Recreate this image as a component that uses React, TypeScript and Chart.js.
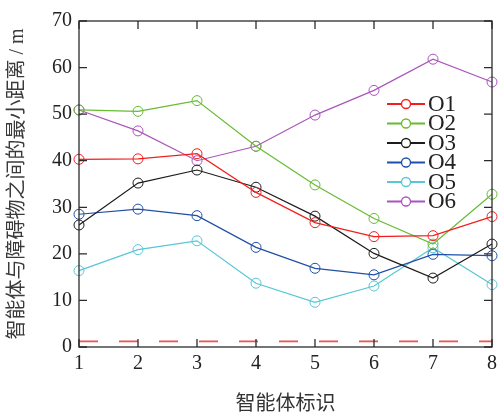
import React, { useEffect, useRef } from "react";
import { Chart, registerables } from "chart.js";

Chart.register(...registerables);

const categories = ["1", "2", "3", "4", "5", "6", "7", "8"];
const yMin = 0;
const yMax = 70;
const yStep = 10;
const seriesNames = ["O1", "O2", "O3", "O4", "O5", "O6"];
const o1 = [40.3, 40.4, 41.5, 33.2, 26.7, 23.7, 23.9, 28.0];
const o2 = [50.9, 50.6, 52.9, 43.1, 34.8, 27.6, 22.1, 32.8];
const o3 = [26.2, 35.2, 38.0, 34.3, 28.1, 20.1, 14.8, 22.1];
const o4 = [28.5, 29.6, 28.2, 21.4, 16.9, 15.5, 19.9, 19.6];
const o5 = [16.4, 20.9, 22.8, 13.7, 9.6, 13.1, 21.3, 13.4];
const o6 = [50.9, 46.4, 40.0, 43.1, 49.8, 55.1, 61.8, 56.9];
const safetyLine = [1.2, 1.2, 1.2, 1.2, 1.2, 1.2, 1.2, 1.2];
const seriesValues = [o1, o2, o3, o4, o5, o6];
const seriesColors = ["#f21d1d", "#66bb33", "#1c1c1c", "#1f4fa8", "#57c6d6", "#aa55bb"];
const xTitle = "智能体标识";
const yTitle = "智能体与障碍物之间的最小距离 / m";

const SERIF = "'Liberation Serif', 'Times New Roman', serif";
const TITLE_FONT = "'Liberation Serif', 'Noto Sans CJK SC', serif";

const framePlugin = {
  id: "frameTicks",
  afterDatasetsDraw(chart: any) {
    const { ctx, chartArea: a, scales } = chart;
    ctx.save();
    ctx.strokeStyle = "#2b2b2b";
    ctx.lineWidth = 1.3;
    ctx.strokeRect(a.left, a.top, a.right - a.left, a.bottom - a.top);
    const tl = 8;
    ctx.beginPath();
    scales.x.ticks.forEach((_: any, i: number) => {
      const px = scales.x.getPixelForTick(i);
      ctx.moveTo(px, a.bottom);
      ctx.lineTo(px, a.bottom - tl);
      ctx.moveTo(px, a.top);
      ctx.lineTo(px, a.top + tl);
    });
    scales.y.ticks.forEach((_: any, i: number) => {
      const py = scales.y.getPixelForTick(i);
      ctx.moveTo(a.left, py);
      ctx.lineTo(a.left + tl, py);
      ctx.moveTo(a.right, py);
      ctx.lineTo(a.right - tl, py);
    });
    ctx.stroke();
    ctx.restore();
  },
  afterDraw(chart: any) {
    const { ctx, chartArea: a } = chart;
    ctx.save();
    const x0 = a.right - 105;
    const y0 = a.top + 83;
    const rowH = 19.5;
    seriesNames.forEach((name, i) => {
      const y = y0 + i * rowH;
      ctx.strokeStyle = seriesColors[i];
      ctx.lineWidth = 1.8;
      ctx.beginPath();
      ctx.moveTo(x0, y);
      ctx.lineTo(x0 + 38, y);
      ctx.stroke();
      ctx.fillStyle = "#ffffff";
      ctx.beginPath();
      ctx.arc(x0 + 19, y, 4.5, 0, Math.PI * 2);
      ctx.fill();
      ctx.lineWidth = 1.3;
      ctx.stroke();
      ctx.fillStyle = "#222222";
      ctx.font = `23px ${SERIF}`;
      ctx.textAlign = "left";
      ctx.textBaseline = "middle";
      ctx.fillText(name, x0 + 41, y + 0.5);
    });
    ctx.restore();
  },
};

export default function App() {
  const ref = useRef<HTMLCanvasElement | null>(null);
  useEffect(() => {
    if (!ref.current) return;
    const datasets: any[] = seriesNames.map((name, i) => ({
      label: name,
      data: seriesValues[i],
      borderColor: seriesColors[i],
      backgroundColor: "rgba(0,0,0,0)",
      borderWidth: 1.2,
      pointRadius: 5,
      pointBorderWidth: 1,
      pointBorderColor: seriesColors[i],
      pointBackgroundColor: "rgba(0,0,0,0)",
      tension: 0,
      clip: false,
    }));
    datasets.push({
      label: "safe",
      data: safetyLine,
      borderColor: "#f05050",
      borderWidth: 1.6,
      borderDash: [19, 21],
      pointRadius: 0,
      tension: 0,
      clip: false,
    });
    const chart = new Chart(ref.current, {
      type: "line",
      data: { labels: categories, datasets },
      plugins: [framePlugin],
      options: {
        animation: false,
        responsive: false,
        devicePixelRatio: 1,
        events: [],
        layout: { padding: { top: 21, left: 0, right: 3, bottom: 0 } },
        plugins: {
          legend: { display: false },
          tooltip: { enabled: false },
        },
        scales: {
          x: {
            type: "category",
            offset: false,
            grid: { display: false, drawTicks: false },
            border: { display: false },
            ticks: {
              padding: 5,
              color: "#222",
              font: { family: SERIF, size: 20 },
              maxRotation: 0,
              autoSkip: false,
            },
            title: {
              display: true,
              text: xTitle,
              color: "#333",
              font: { family: TITLE_FONT, size: 20 },
              padding: { top: 0, bottom: 7 },
            },
            afterFit(scale: any) {
              scale.height = 77;
              scale.paddingLeft = 0;
              scale.paddingRight = 0;
            },
          },
          y: {
            min: yMin,
            max: yMax,
            grid: { display: false, drawTicks: false },
            border: { display: false },
            ticks: {
              stepSize: yStep,
              padding: 7,
              color: "#222",
              font: { family: SERIF, size: 20 },
            },
            title: {
              display: true,
              text: yTitle,
              color: "#3a3a3a",
              font: { family: TITLE_FONT, size: 20 },
              padding: { top: 6, bottom: 0 },
            },
            afterFit(scale: any) {
              scale.width = 79;
            },
          },
        },
      },
    } as any);
    return () => chart.destroy();
  }, []);
  return (
    <div
      style={{
        position: "fixed",
        left: 0,
        top: 0,
        width: 498,
        height: 412,
        overflow: "hidden",
        background: "#fff",
      }}
    >
      <canvas ref={ref} width={498} height={424} style={{ display: "block" }} />
    </div>
  );
}
